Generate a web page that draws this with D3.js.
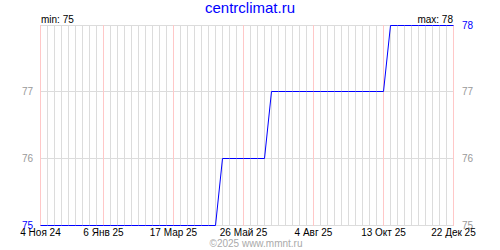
<!DOCTYPE html>
<html>
<head>
<meta charset="utf-8">
<script src="https://cdn.jsdelivr.net/npm/d3@7"></script>
<style>
  html, body { margin: 0; padding: 0; background: #fff; }
  svg { display: block; font-family: "Liberation Sans", Arial, sans-serif; }
</style>
</head>
<body>
<svg id="chart" width="500" height="250"></svg>
<script>
// ---- data ----
const title = "centrclimat.ru";
const copyright = "©2025 www.mmnt.ru";
const startDate = "2024-11-04";
const endDate = "2025-12-22";
// weekly values, one per Monday from 4 Nov 2024 to 22 Dec 2025
const weeklyValues = [
  75,75,75,75,75,75,75,75,75,75,
  75,75,75,75,75,75,75,75,75,75,
  75,75,75,75,75,75,76,76,76,76,
  76,76,76,77,77,77,77,77,77,77,
  77,77,77,77,77,77,77,77,77,77,
  78,78,78,78,78,78,78,78,78,78
];
const tickDates = ["2024-11-04","2025-01-06","2025-03-17","2025-05-26","2025-08-04","2025-10-13","2025-12-22"];
const tickLabels = ["4 Ноя 24","6 Янв 25","17 Мар 25","26 Май 25","4 Авг 25","13 Окт 25","22 Дек 25"];
const yTicks = [75, 76, 77, 78];
const minLabel = "min: 75";
const maxLabel = "max: 78";

// ---- layout ----
const svg = d3.select("#chart");
const parse = d3.utcParse("%Y-%m-%d");
const t0 = parse(startDate), t1 = parse(endDate);
const x = d3.scaleUtc().domain([t0, t1]).range([40, 453]);
const y = d3.scaleLinear().domain([75, 78]).range([225, 25]);
const px = v => Math.round(v) + 0.5;
const py = v => Math.floor(v) + 0.5;

const data = weeklyValues.map((v, i) => ({ date: d3.utcDay.offset(t0, i * 7), value: v }));
const ticks = tickDates.map(parse);

// vertical weekly grid
const weeks = d3.utcMonday.range(t0, d3.utcDay.offset(t1, 1));
svg.append("g").selectAll("line").data(weeks).join("line")
  .attr("x1", d => px(x(d))).attr("x2", d => px(x(d)))
  .attr("y1", 25).attr("y2", 226)
  .attr("stroke", "#dcdcdc").attr("stroke-width", 1);

// horizontal grid
svg.append("g").selectAll("line").data(yTicks).join("line")
  .attr("x1", 40).attr("x2", 454)
  .attr("y1", d => py(y(d))).attr("y2", d => py(y(d)))
  .attr("stroke", "#dcdcdc").attr("stroke-width", 1);

// red grid at label dates
svg.append("g").selectAll("line").data(ticks).join("line")
  .attr("x1", d => px(x(d))).attr("x2", d => px(x(d)))
  .attr("y1", 25).attr("y2", 226)
  .attr("stroke", "#ffc8c8").attr("stroke-width", 1);

// data line
const line = d3.line().x(d => px(x(d.date))).y(d => py(y(d.value)));
svg.append("path").datum(data)
  .attr("d", line)
  .attr("fill", "none")
  .attr("stroke", "#0000ff")
  .attr("stroke-width", 1);

// title
svg.append("text").attr("x", 250).attr("y", 13)
  .attr("text-anchor", "middle").attr("font-size", 15)
  .attr("fill", "#0000ff").text(title);

// min / max
svg.append("text").attr("x", 41).attr("y", 23)
  .attr("font-size", 10).attr("fill", "#000").text(minLabel);
svg.append("text").attr("x", 453).attr("y", 23)
  .attr("text-anchor", "end").attr("font-size", 10).attr("fill", "#000").text(maxLabel);

// y labels left
svg.append("g").selectAll("text").data(yTicks.filter(d => d !== 78)).join("text")
  .attr("x", 33).attr("y", d => py(y(d)) + 3.5)
  .attr("text-anchor", "end").attr("font-size", 10)
  .attr("fill", d => d === 75 ? "#0000ff" : "#999")
  .text(d => d);

// y labels right
svg.append("g").selectAll("text").data(yTicks).join("text")
  .attr("x", 462).attr("y", d => py(y(d)) + 3.5)
  .attr("font-size", 10)
  .attr("fill", d => d === 78 ? "#0000ff" : "#999")
  .text(d => d);

// x labels
svg.append("g").selectAll("text").data(ticks).join("text")
  .attr("x", d => px(x(d))).attr("y", 236)
  .attr("text-anchor", "middle").attr("font-size", 10).attr("fill", "#000")
  .text((d, i) => tickLabels[i]);

// copyright
svg.append("text").attr("x", 256).attr("y", 247)
  .attr("text-anchor", "middle").attr("font-size", 10).attr("fill", "#aaa")
  .text(copyright);
</script>
</body>
</html>
